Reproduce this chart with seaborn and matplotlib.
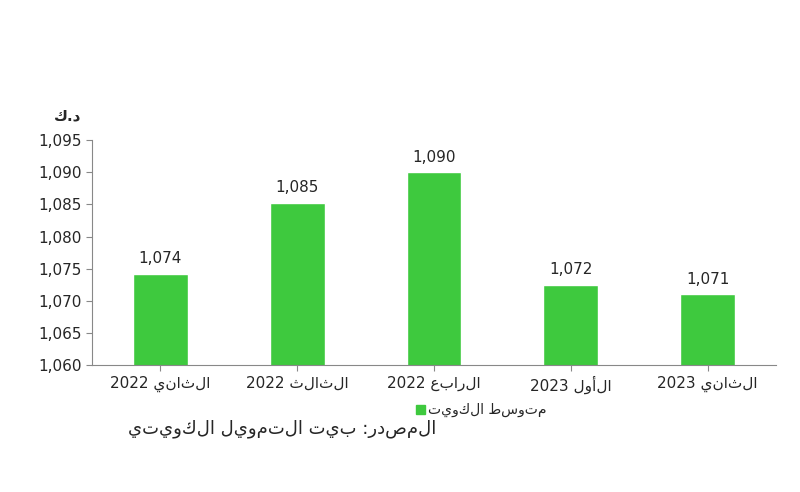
import matplotlib
matplotlib.use("Agg")
import matplotlib.pyplot as plt
import seaborn as sns
import pandas as pd
from matplotlib.ticker import FuncFormatter

quarters = ["الثاني 2022", "الثالث 2022", "الرابع 2022", "الأول 2023", "الثاني 2023"]
values = [1074.2, 1085.2, 1090.0, 1072.5, 1071.0]
labels = ["1,074", "1,085", "1,090", "1,072", "1,071"]
series_name = "متوسط الكويت"
unit = "د.ك"
source = "المصدر: بيت التمويل الكويتي"

def rtl(s):
    # reverse Arabic words for visual right-to-left order, keep digits intact
    out = []
    for w in s.split(" ")[::-1]:
        out.append(w if any(c.isdigit() for c in w) else w[::-1])
    return " ".join(out)

sns.set_style("white")
plt.rcParams['font.family'] = ['DejaVu Sans']
fig = plt.figure(figsize=(8, 4.92), dpi=100)
ax = fig.add_axes([0.115, 0.258, 0.855, 0.457])
df = pd.DataFrame({"q": [rtl(q) for q in quarters], "v": values})
sns.barplot(data=df, x="q", y="v", color="#3ec93e", width=0.4, ax=ax, saturation=1)
ax.set_ylim(1060, 1095)
ax.set_yticks(range(1060, 1096, 5))
ax.yaxis.set_major_formatter(FuncFormatter(lambda v, p: f"{int(v):,}"))
ax.set_xlabel(""); ax.set_ylabel("")
for i, (v, l) in enumerate(zip(values, labels)):
    ax.text(i, v + 1.2, l, ha="center", va="bottom", fontsize=11)
for s in ["top", "right"]:
    ax.spines[s].set_visible(False)
for s in ["left", "bottom"]:
    ax.spines[s].set_color("#888888")
ax.tick_params(axis="both", labelsize=11, length=4, color="#888888", left=True, bottom=True)
ax.set_xticks(range(5))
fig.text(0.085, 0.755, rtl(unit), fontsize=11, fontweight="bold", ha="center")
fig.patches.append(plt.Rectangle((0.52, 0.158), 0.011, 0.018, color="#3ec93e", transform=fig.transFigure))
fig.text(0.535, 0.166, rtl(series_name), fontsize=10, va="center")
fig.text(0.16, 0.128, rtl(source), fontsize=13, va="center")
fig.savefig("out.png", dpi=100)
